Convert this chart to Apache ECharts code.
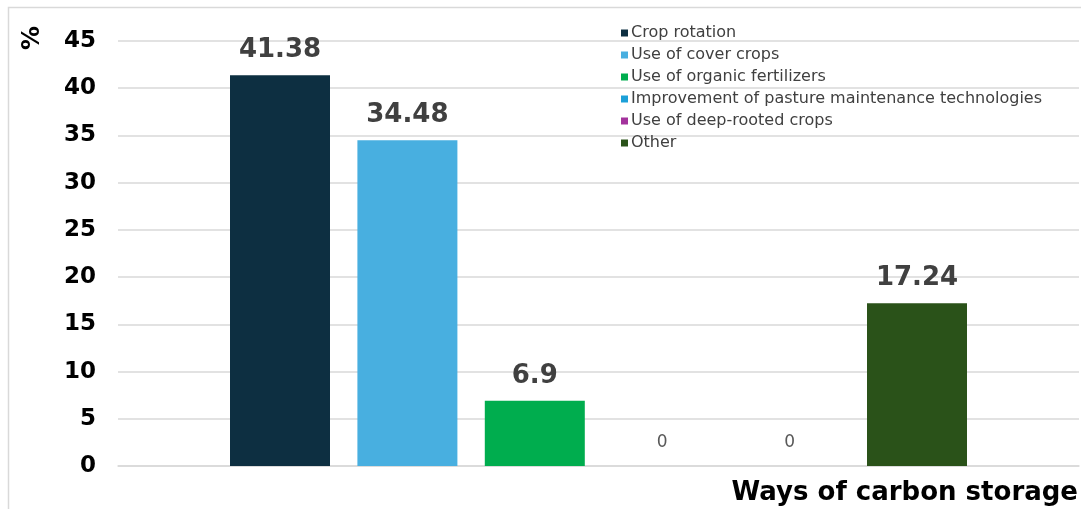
<!DOCTYPE html>
<html>
<head>
<meta charset="utf-8">
<script src="https://cdn.jsdelivr.net/npm/echarts@6/dist/echarts.min.js"></script>
<style>
  html, body { margin: 0; padding: 0; background: #ffffff; }
  #chart { width: 1081px; height: 509px; }
</style>
</head>
<body>
<div id="chart"></div>
<script>
// Ways of carbon storage, share of respondents (%)
const seriesNames = [
  'Crop rotation',
  'Use of cover crops',
  'Use of organic fertilizers',
  'Improvement of pasture maintenance technologies',
  'Use of deep-rooted crops',
  'Other'
];
const seriesValues = [41.38, 34.48, 6.9, 0, 0, 17.24];
const seriesColors = ['#0D2F41', '#48AFE0', '#00AD4E', '#1CA0D8', '#A3329C', '#2A5219'];
const categories = ['Ways of carbon storage'];
const yTicks = { min: 0, max: 45, interval: 5 };

const FONT = '"DejaVu Sans", Verdana, sans-serif';

const series = seriesNames.map((name, i) => {
  const v = seriesValues[i];
  const zero = v === 0;
  return {
    name,
    type: 'bar',
    barWidth: 100,
    barGap: '27.4%',
    itemStyle: { color: seriesColors[i] },
    label: {
      show: true,
      position: 'top',
      distance: zero ? 15 : 12,
      fontFamily: FONT,
      fontSize: zero ? 17 : 26,
      fontWeight: zero ? 'normal' : 'bold',
      color: zero ? '#595959' : '#404040',
      formatter: p => String(p.value)
    },
    data: [v]
  };
});

const chart = echarts.init(document.getElementById('chart'), null, { renderer: 'canvas' });
chart.setOption({
  animation: false,
  backgroundColor: '#ffffff',
  grid: { left: 118, right: 2, top: 41, bottom: 43 },
  legend: {
    orient: 'vertical',
    left: 616,
    top: 20,
    itemWidth: 7,
    itemHeight: 7,
    itemGap: 6,
    icon: 'rect',
    selectedMode: false,
    textStyle: { fontFamily: FONT, fontSize: 16, color: '#404040', padding: [0, 0, 0, -2] },
    data: seriesNames
  },
  xAxis: {
    type: 'category',
    data: categories,
    axisLine: { show: true, lineStyle: { color: '#d9d9d9', width: 1.5 } },
    axisTick: { show: false },
    axisLabel: { show: false }
  },
  yAxis: {
    type: 'value',
    min: yTicks.min,
    max: yTicks.max,
    interval: yTicks.interval,
    axisLine: { show: false },
    axisTick: { show: false },
    splitLine: { lineStyle: { color: '#d9d9d9', width: 1.5 } },
    axisLabel: {
      margin: 22,
      fontFamily: FONT,
      fontSize: 23,
      fontWeight: 'bold',
      color: '#000000'
    }
  },
  graphic: [
    {
      type: 'rect',
      shape: { x: 8.5, y: 7.5, width: 1200, height: 700 },
      style: { fill: 'none', stroke: '#d9d9d9', lineWidth: 1.5 },
      silent: true,
      z: -10
    },
    {
      type: 'text',
      x: 33, y: 38,
      rotation: Math.PI / 2,
      style: {
        text: '%',
        fontFamily: FONT,
        fontSize: 24,
        fontWeight: 'bold',
        fill: '#000000',
        align: 'center',
        verticalAlign: 'middle'
      }
    },
    {
      type: 'text',
      x: 1078, y: 493,
      style: {
        text: categories[0],
        fontFamily: FONT,
        fontSize: 26,
        fontWeight: 'bold',
        fill: '#000000',
        align: 'right',
        verticalAlign: 'middle'
      }
    }
  ],
  series
});
</script>
</body>
</html>
